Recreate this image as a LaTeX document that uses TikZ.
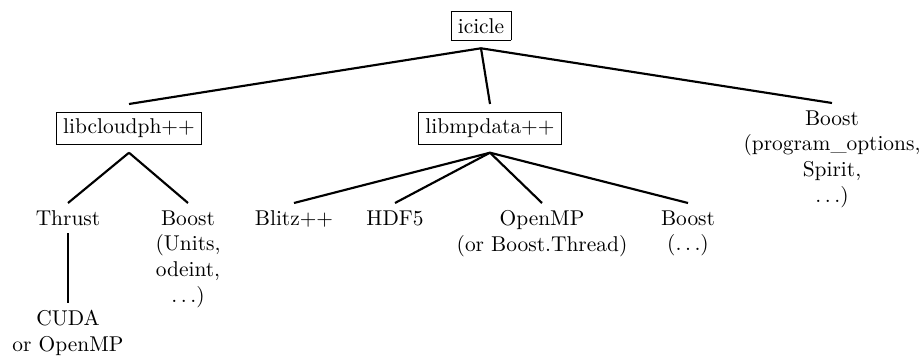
\documentclass[tikz,border=0pt]{standalone}
\begin{document}
\begin{tikzpicture}[x=0.467pt,y=-0.467pt,
  lib/.style={anchor=north,align=center},
  edge/.style={line width=1pt}]
\useasboundingbox (0,0) rectangle (920,357);
\node[lib] (ic) at (481,3.5) {\fbox{icicle}};
\node[lib] (lc) at (129,104) {\fbox{libcloudph++}};
\node[lib] (lm) at (490,104) {\fbox{libmpdata++}};
\node[lib] (bp) at (832,103) {Boost\\(program\_options,\\Spirit,\\$\ldots$)};
\node[lib] (th) at (68,203) {Thrust};
\node[lib] (bu) at (188,203) {Boost\\(Units,\\odeint,\\$\ldots$)};
\node[lib] (bl) at (294,203) {Blitz++};
\node[lib] (hd) at (395,203) {HDF5};
\node[lib] (om) at (542,203) {OpenMP\\(or Boost.Thread)};
\node[lib] (bd) at (688,203) {Boost\\($\ldots$)};
\node[lib] (cu) at (68,303) {CUDA\\or OpenMP};
\draw[edge] (ic.south) -- (lc.north);
\draw[edge] (ic.south) -- (lm.north);
\draw[edge] (ic.south) -- (bp.north);
\draw[edge] (lc.south) -- (th.north);
\draw[edge] (lc.south) -- (bu.north);
\draw[edge] (lm.south) -- (bl.north);
\draw[edge] (lm.south) -- (hd.north);
\draw[edge] (lm.south) -- (om.north);
\draw[edge] (lm.south) -- (bd.north);
\draw[edge] (th.south) -- (cu.north);
\end{tikzpicture}
\end{document}
